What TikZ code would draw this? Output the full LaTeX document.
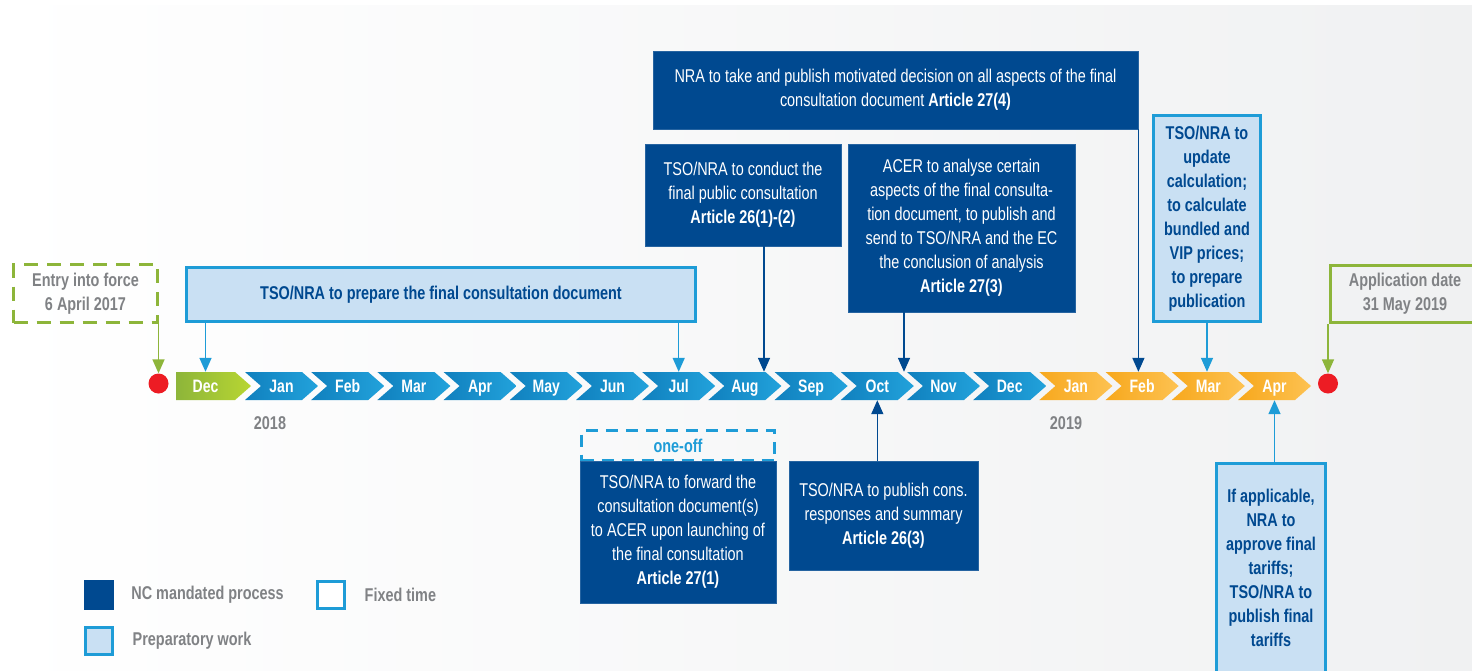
\documentclass[tikz,border=0pt]{standalone}
\usepackage{fontspec}
\setmainfont[FakeStretch=0.78]{Liberation Sans}
\usepackage{xcolor}
\usetikzlibrary{arrows.meta,positioning}

\definecolor{ncblue}{RGB}{0,73,144}
\definecolor{prepfill}{RGB}{201,224,243}
\definecolor{prepline}{RGB}{30,156,215}
\definecolor{dategreen}{RGB}{141,181,58}
\definecolor{labelgray}{RGB}{128,130,133}
\definecolor{dotred}{RGB}{237,28,36}
\definecolor{bggray}{RGB}{240,241,242}

\begin{document}
\begin{tikzpicture}[
  x=1pt, y=-1pt,
  every node/.style={align=center, inner sep=0pt, font=\fontsize{18.5}{24}\selectfont},
  ncbox/.style={rectangle, fill=ncblue, draw=ncblue!85!white, line width=0.8pt, text=white},
  prepbox/.style={rectangle, fill=prepfill, draw=prepline, line width=3pt, text=ncblue,
    font=\bfseries\fontsize{18.5}{24}\selectfont},
  datebox/.style={rectangle, draw=dategreen, line width=3pt, text=labelgray,
    font=\bfseries\fontsize{18.5}{24}\selectfont},
  month/.style={minimum width=57pt, minimum height=28pt, text=white, text height=13pt, text depth=0pt,
    font=\bfseries\fontsize{18}{20}\selectfont},
  bluechev/.style={left color={rgb,255:red,16;green,128;blue,190}, right color={rgb,255:red,34;green,162;blue,219}},
  orangechev/.style={left color={rgb,255:red,247;green,168;blue,29}, right color={rgb,255:red,253;green,194;blue,82}},
  greenchev/.style={left color={rgb,255:red,141;green,181;blue,58}, right color={rgb,255:red,184;green,214;blue,50}},
  reddot/.style={circle, fill=dotred, minimum size=20pt},
  ncarrow/.style={draw=ncblue, line width=1.5pt, -{Triangle[length=14pt,width=12pt]}},
  preparrow/.style={draw=prepline, line width=1.5pt, -{Triangle[length=14pt,width=12pt]}},
  datearrow/.style={draw=dategreen, line width=1.5pt, -{Triangle[length=14pt,width=12pt]}},
  yearlabel/.style={text=labelgray, font=\bfseries\fontsize{18.5}{24}\selectfont},
  legtext/.style={text=labelgray, anchor=west, font=\bfseries\fontsize{18.5}{24}\selectfont}
]
% background
\useasboundingbox (0,0) rectangle (1472,670);
\fill[white] (0,0) rectangle (1472,670);
\shade[left color=white, right color=bggray] (0,5) rectangle (1472,670);

% timeline
\path[greenchev] (176,372) -- (235,372) -- (251,386) -- (235,400) -- (176,400) -- cycle;
\node[month, minimum width=59pt] (m0) at (205.5,386) {Dec};
\foreach \m [count=\i] in {Jan,Feb,Mar,Apr,May,Jun,Jul,Aug,Sep,Oct,Nov,Dec,Jan,Feb,Mar,Apr}{
  \pgfmathsetmacro{\L}{245+(\i-1)*66.2}
  \ifnum\i>12 \def\chevcol{orangechev}\else\def\chevcol{bluechev}\fi
  \path[\chevcol] (\L,372) -- ++(57,0) -- ++(16,14) -- ++(-16,14) -- ++(-57,0) -- ++(16,-14) -- cycle;
  \node[month] (m\i) at (\L+36.5,386) {\m};
}
\node[reddot] (start) at (158.5,383.5) {};
\node[reddot] (finish) at (1328,383.5) {};
\node[yearlabel] (y18) at (270,423) {2018};
\node[yearlabel] (y19) at (1066,423) {2019};

% dates
\node[datebox, dashed, dash pattern=on 14pt off 9pt, minimum width=144pt, minimum height=58pt]
  (entry) at (85.5,293.5) {Entry into force\\6 April 2017};
\node[datebox, minimum width=150pt, minimum height=57pt]
  (appl) at (1405,294) {Application date\\31 May 2019};

% boxes above
\node[prepbox, minimum width=509pt, minimum height=54pt] (prep) at (441,294.5)
  {TSO/NRA to prepare the final consultation document};
\node[ncbox, minimum width=196pt, minimum height=102pt] (conduct) at (743,195)
  {TSO/NRA to conduct the\\final public consultation\\\textbf{Article 26(1)-(2)}};
\node[ncbox, minimum width=227pt, minimum height=168pt] (acer) at (961.5,228)
  {ACER to analyse certain\\aspects of the final consulta-\\tion document, to publish and\\send to TSO/NRA and the EC\\the conclusion of analysis\\\textbf{Article 27(3)}};
\node[ncbox, minimum width=485pt, minimum height=78pt] (nra) at (895.5,90)
  {NRA to take and publish motivated decision on all aspects of the final\\consultation document \textbf{Article 27(4)}};
\node[prepbox, minimum width=107pt, minimum height=206pt] (update) at (1207,218.5)
  {TSO/NRA to\\update\\calculation;\\to calculate\\bundled and\\VIP prices;\\to prepare\\publication};

% boxes below
\node[rectangle, draw=prepline, line width=3pt, dashed, dash pattern=on 12pt off 8pt,
  minimum width=193pt, minimum height=30pt, text=prepline,
  font=\bfseries\fontsize{18.5}{24}\selectfont] (oneoff) at (678,445.5) {one-off};
\node[ncbox, minimum width=196pt, minimum height=142pt] (forward) at (678,532)
  {TSO/NRA to forward the\\consultation document(s)\\to ACER upon launching of\\the final consultation\\\textbf{Article 27(1)}};
\node[ncbox, minimum width=189pt, minimum height=109pt] (cons) at (883.5,515.5)
  {TSO/NRA to publish cons.\\responses and summary\\\textbf{Article 26(3)}};
\node[prepbox, minimum width=109pt, minimum height=210pt] (apply) at (1271,568)
  {If applicable,\\NRA to\\approve final\\tariffs;\\TSO/NRA to\\publish final\\tariffs};

% connectors
\draw[datearrow] (entry.south -| start.north) -- (start.north);
\draw[datearrow] (appl.south -| finish.north) -- (finish.north);
\draw[preparrow] (prep.south -| m0.north) -- (m0.north);
\draw[preparrow] (prep.south -| m7.north) -- (m7.north);
\draw[ncarrow] ([xshift=21pt]conduct.south) -- ([xshift=21pt]conduct.south |- m8.north);
\draw[ncarrow] ([xshift=-57.5pt]acer.south) -- ([xshift=-57.5pt]acer.south |- m10.north);
\draw[ncarrow] (nra.south east) -- (nra.south east |- m14.north);
\draw[preparrow] (update.south) -- (update.south |- m15.north);
\draw[ncarrow] (cons.north -| m10.south) -- (m10.south);
\draw[preparrow] (apply.north -| m16.south) -- (m16.south);

% legend
\node[rectangle, fill=ncblue, minimum size=30pt] (legnc) at (99,595) {};
\node[legtext, right=17pt of legnc] {NC mandated process};
\node[rectangle, fill=prepfill, draw=prepline, line width=3pt, minimum size=27pt] (legprep) at (99,641) {};
\node[legtext, right=18.5pt of legprep] {Preparatory work};
\node[rectangle, fill=white, draw=prepline, line width=3pt, minimum size=27pt] (legfix) at (331,595) {};
\node[legtext, right=18.5pt of legfix] {Fixed time};
\end{tikzpicture}
\end{document}
